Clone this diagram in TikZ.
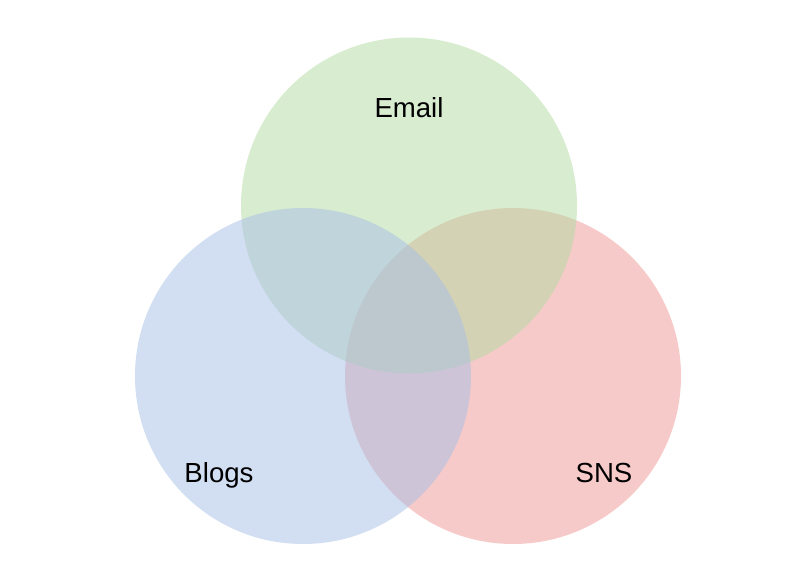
\documentclass[tikz,border=0pt]{standalone}
\usepackage{fontspec}
\setmainfont{Liberation Sans}
\usepackage{tikz}

\definecolor{emailgreen}{HTML}{B3DBA1}
\definecolor{blogsblue}{HTML}{A7BFE7}
\definecolor{snsred}{HTML}{F19797}

\begin{document}
\begin{tikzpicture}[x=0.75pt, y=-0.75pt,
    set/.style={circle, inner sep=0pt, minimum size=252pt, fill opacity=0.5},
    setlabel/.style={font=\fontsize{20.7}{24}\selectfont, text=black}]
    \useasboundingbox[fill=white] (0,0) rectangle (812,580);

    \node[set, fill=snsred]
        (sns) at (513,376) {};

    \node[set, fill=emailgreen]
        (email) at (409,205.5) {};

    \node[set, fill=blogsblue]
        (blogs) at (303,376) {};

    \node[setlabel] (emaillabel) at (409,108) {Email};
    \node[setlabel] (blogslabel) at (219,475) {Blogs};
    \node[setlabel] (snslabel) at (604,473) {SNS};
\end{tikzpicture}
\end{document}
